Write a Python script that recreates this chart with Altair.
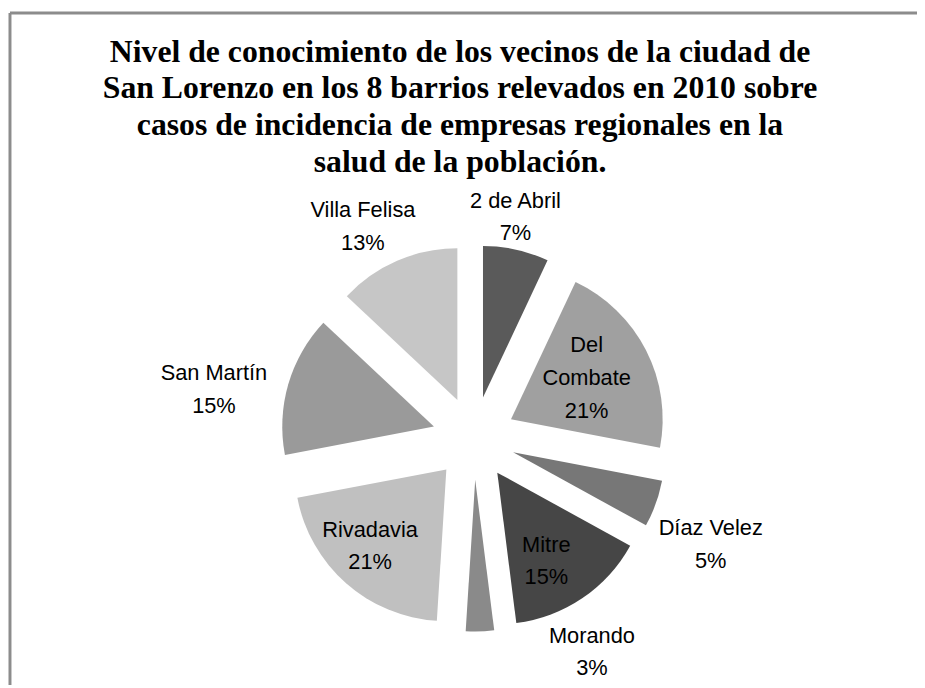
import altair as alt
import pandas as pd

# ---- data ----
barrios = ["2 de Abril", "Del Combate", "Díaz Velez", "Mitre", "Morando",
           "Rivadavia", "San Martín", "Villa Felisa"]
porcentajes = [7, 21, 5, 15, 3, 21, 15, 13]
colores = ["#5a5a5a", "#a0a0a0", "#777777", "#464646", "#8a8a8a",
           "#c0c0c0", "#9a9a9a", "#c6c6c6"]
titulo = [
    "Nivel de conocimiento de los vecinos de la ciudad de",
    "San Lorenzo en los 8 barrios relevados en 2010 sobre",
    "casos de incidencia de empresas regionales en la",
    "salud de la población.",
]

# ---- layout (label placement like Excel "best fit") ----
W, H = 917, 680
CX, CY = 470, 431      # pie centre (px)
R = 153                # pie radius
D = 42                 # explosion distance
LH = 33                # label line height
label_dist = [185, 87, 220, 102, 210, 109, 225, 199]
label_shift = [-2.4, -1.7, 5.2, 5.2, -32.3, 3.5, -6.7, -5.2]
label_lines = [["2 de Abril"], ["Del", "Combate"], ["Díaz Velez"], ["Mitre"],
               ["Morando"], ["Rivadavia"], ["San Martín"], ["Villa Felisa"]]

df = pd.DataFrame({
    "barrio": barrios,
    "valor": porcentajes,
    "orden": list(range(len(barrios))),
    "ld": label_dist,
    "ls": label_shift,
})
df["etiqueta"] = [lines + [f"{p}%"] for lines, p in zip(label_lines, porcentajes)]

base = alt.Chart(df).transform_joinaggregate(
    total="sum(valor)"
).transform_window(
    cum="sum(valor)", sort=[alt.SortField("orden")], frame=[None, 0]
).transform_calculate(
    a0="(datum.cum - datum.valor) / datum.total * 2 * PI",
    a1="datum.cum / datum.total * 2 * PI",
).transform_calculate(
    mid="(datum.a0 + datum.a1) / 2"
).transform_calculate(
    cx=f"{CX} + {D} * sin(datum.mid)",
    cy=f"{CY} - {D} * cos(datum.mid)",
    la="datum.mid + datum.ls * PI / 180",
).transform_calculate(
    lx="datum.cx + datum.ld * sin(datum.la)",
    ly=f"datum.cy - datum.ld * cos(datum.la) - (length(datum.etiqueta) - 1) * {LH} / 2",
)

arcs = base.mark_arc(outerRadius=R, innerRadius=0).encode(
    theta=alt.Theta("a0:Q", scale=None),
    theta2="a1:Q",
    x=alt.X("cx:Q", scale=None),
    y=alt.Y("cy:Q", scale=None),
    color=alt.Color("barrio:N", scale=alt.Scale(domain=barrios, range=colores), legend=None),
)

labels = base.mark_text(
    font="Liberation Sans",
    fontSize=22, lineHeight=LH, align="center", baseline="middle", color="#000000",
).encode(
    x=alt.X("lx:Q", scale=None),
    y=alt.Y("ly:Q", scale=None),
    text="etiqueta",
)

one = alt.Data(values=[{"k": 1}])
frame_top = alt.Chart(one).mark_rule(color="#8c8c8c", strokeWidth=3).encode(
    x=alt.value(2), x2=alt.value(W), y=alt.value(2), y2=alt.value(2))
frame_left = alt.Chart(one).mark_rule(color="#8c8c8c", strokeWidth=3).encode(
    x=alt.value(2), x2=alt.value(2), y=alt.value(2), y2=alt.value(H))

title = alt.Chart(one).mark_text(
    font="Liberation Serif", fontSize=32, fontWeight="bold", lineHeight=37,
    align="center", baseline="alphabetic", color="#000000", text=titulo,
).encode(x=alt.value(456), y=alt.value(51))

chart = alt.layer(frame_top, frame_left, arcs, labels, title).properties(
    width=W, height=H, padding=0, autosize=alt.AutoSizeParams(type="none")
).configure_view(stroke=None)

chart.save("out.html", embed_options={"renderer": "svg", "actions": False})
